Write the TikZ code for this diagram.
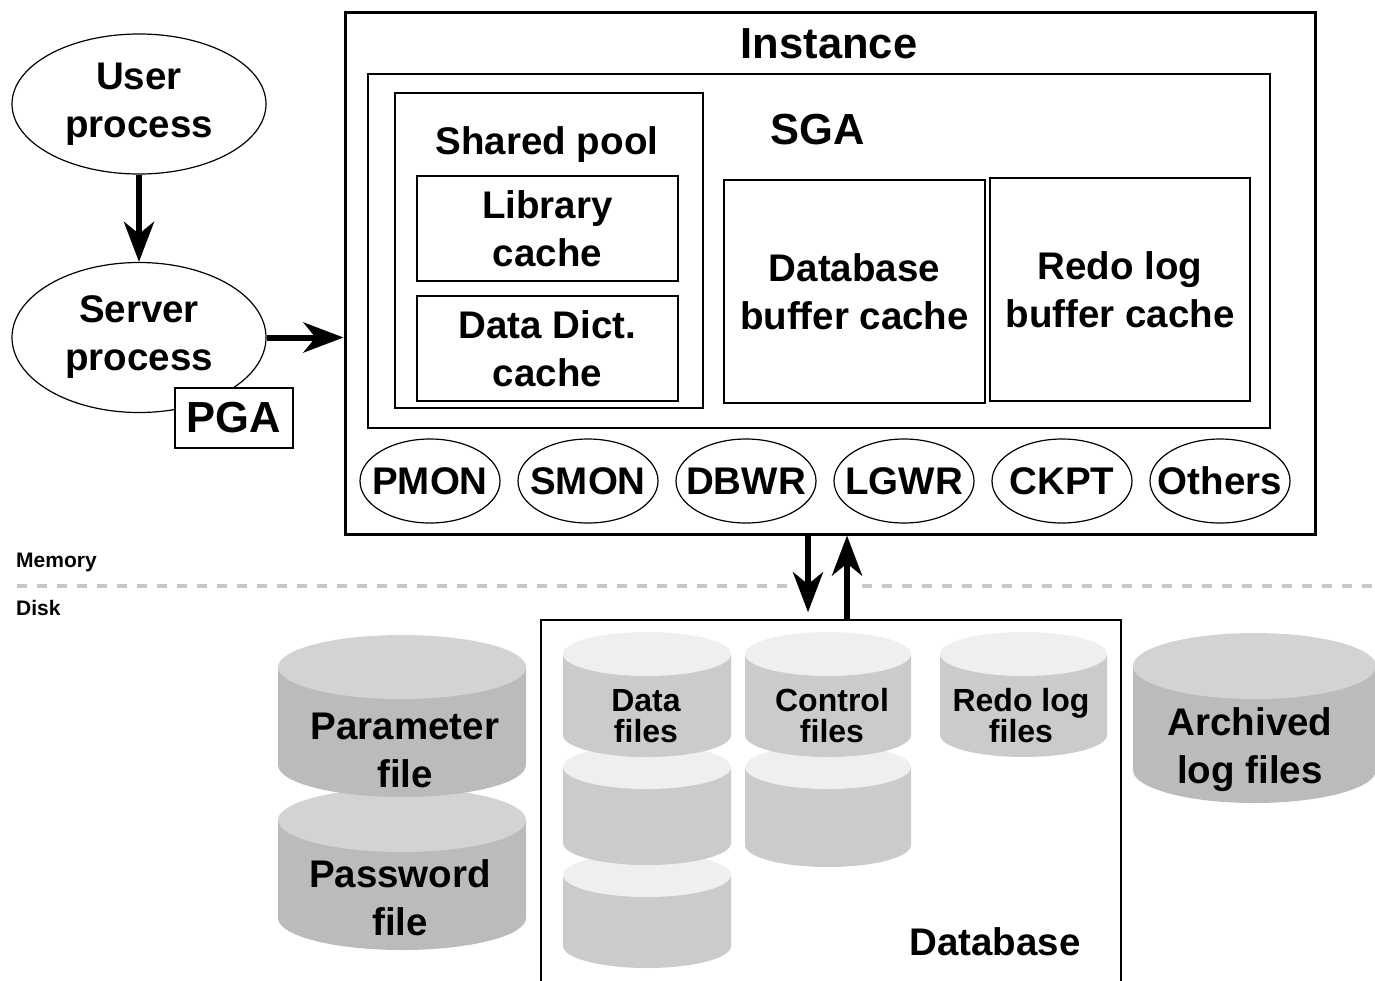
\documentclass[tikz,border=0pt]{standalone}
\usepackage{fontspec}
\setmainfont{Liberation Sans}
\usetikzlibrary{positioning,shapes.geometric,arrows.meta}

\definecolor{diskside}{HTML}{CBCBCB}
\definecolor{disktop}{HTML}{EFEFEF}
\definecolor{fileside}{HTML}{BBBBBB}
\definecolor{filetop}{HTML}{D3D3D3}
\definecolor{sepgray}{HTML}{C8C8C8}

\newcommand{\bigfont}{\fontsize{38.5}{48}\selectfont\bfseries}
\newcommand{\titlefont}{\fontsize{43.5}{52}\selectfont\bfseries}
\newcommand{\diskfont}{\fontsize{32}{31}\selectfont\lineskiplimit=-50pt\bfseries}
\newcommand{\smallfont}{\fontsize{21}{24}\selectfont\bfseries}

% cylinder: x1, x2, ytop, ybottom, ry, top colour, side colour
\newcommand{\cyl}[7]{%
  \fill[#7] (#2,#3+#5) -- (#2,#4-#5) arc[start angle=0,end angle=-180,x radius=(#2-#1)/2*1pt,y radius=#5*1pt] -- (#1,#3+#5) -- cycle;
  \fill[#6] ({(#1+#2)/2},#3+#5) ellipse[x radius=(#2-#1)/2*1pt,y radius=#5*1pt];
}

\begin{document}
\begin{tikzpicture}[x=1pt,y=-1pt,
  box/.style={draw,line width=1.5pt,inner sep=0pt,align=center,font=\bigfont},
  proc/.style={draw,ellipse,line width=1.2pt,inner xsep=-15pt,inner ysep=0pt,minimum width=140pt,minimum height=84pt,font=\bigfont},
  bigproc/.style={draw,ellipse,line width=1.2pt,inner sep=0pt,minimum width=254pt,align=center,font=\bigfont},
  txt/.style={inner sep=0pt,align=center,font=\bigfont},
  disktxt/.style={inner sep=0pt,align=center,font=\diskfont},
  arr/.style={-{Stealth[length=40pt,width=30pt,inset=12pt]},line width=6pt},
  sepline/.style={sepgray,line width=4pt,dash pattern=on 10pt off 10pt},
  node distance=158pt,on grid]

\useasboundingbox (0,0) rectangle (1375,980);

% instance
\node[draw,line width=3pt,minimum width=970pt,minimum height=522pt] (inst) at (830,273) {};
\node[txt,font=\titlefont] (insttitle) at (829,44) {Instance};
\node[box,minimum width=902pt,minimum height=354pt] (sga) at (819,251) {};
\node[txt,font=\titlefont] (sgatitle) at (818,130) {SGA};
\node[box,minimum width=308pt,minimum height=315pt] (shpool) at (549,250.5) {};
\node[txt] (shtitle) at (547,145) {Shared pool};
\node[box,minimum width=261pt,minimum height=105pt] (libcache) at (547.5,228.5) {Library\\cache};
\node[box,minimum width=261pt,minimum height=105pt] (dictcache) at (547.5,348.5) {Data Dict.\\cache};
\node[box,minimum width=261pt,minimum height=223pt] (dbbuf) at (854.5,291.5) {Database\\buffer cache};
\node[box,minimum width=260pt,minimum height=223pt] (redobuf) at (1120,289.5) {Redo log\\buffer cache};

% background processes
\node[proc] (pmon) at (430,481) {PMON};
\node[proc] (smon) [right=of pmon] {SMON};
\node[proc] (dbwr) [right=of smon] {DBWR};
\node[proc] (lgwr) [right=of dbwr] {LGWR};
\node[proc] (ckpt) [right=of lgwr] {CKPT};
\node[proc] (others) [right=of ckpt] {Others};

% user and server
\node[bigproc,minimum height=140pt] (user) at (139,104) {User\\process};
\node[bigproc,minimum height=150pt] (server) [below=233.5pt of user] {Server\\process};
\node[box,fill=white,minimum width=118pt,minimum height=60pt,font=\titlefont] (pga) at (234,418) {PGA};

\draw[arr] (user) -- (server);
\draw[arr] (server.east) -- (server.east -| inst.west);

% memory / disk
\draw[sepline] (17,586) -- (797,586);
\draw[sepline] (862,586) -- (1375,586);
\node[txt,font=\smallfont,anchor=west] (memlabel) at (16,562) {Memory};
\node[txt,font=\smallfont,anchor=west] (disklabel) at (16,608) {Disk};

% files
\cyl{278}{526}{788}{950}{32}{filetop}{fileside}
\cyl{278}{526}{635}{797}{32}{filetop}{fileside}
\cyl{563}{731}{853}{968}{22}{disktop}{diskside}
\cyl{563}{731}{745}{865}{22}{disktop}{diskside}
\cyl{563}{731}{632}{757}{22}{disktop}{diskside}
\cyl{745}{911}{745}{867}{22}{disktop}{diskside}
\cyl{745}{911}{632}{757}{22}{disktop}{diskside}
\cyl{940}{1107}{632}{757}{22}{disktop}{diskside}
\cyl{1133}{1376}{633}{803}{33}{filetop}{fileside}

\node[txt] (paramfile) at (405,750) {Parameter\\file};
\node[txt] (pwdfile) at (400,898) {Password\\file};
\node[txt] (archfiles) at (1250,750) {Archived\\log files};
\node[disktxt] (datafiles) at (646,716) {Data\\files};
\node[disktxt] (ctlfiles) at (832,716) {Control\\files};
\node[disktxt] (redofiles) at (1021,716) {Redo log\\files};

\node[box,minimum width=580pt,minimum height=364pt] (db) at (831,802) {};
\node[txt] (dbtitle) at (995,942) {Database};

\coordinate (dnx) at (808,0);
\coordinate (upx) at (847,0);
\draw[arr] (dnx |- inst.south) -- ([yshift=7pt]dnx |- db.north);
\draw[arr] (upx |- db.north) -- (upx |- inst.south);
\end{tikzpicture}
\end{document}
